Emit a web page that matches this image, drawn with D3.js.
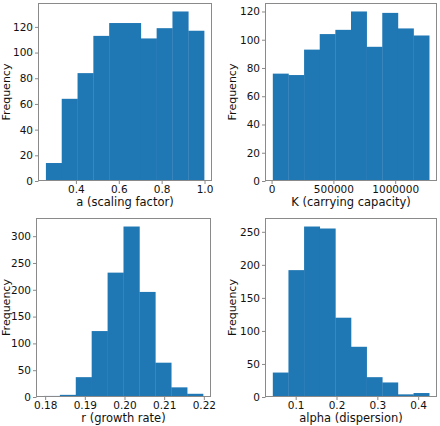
<!DOCTYPE html>
<html>
<head>
<meta charset="utf-8">
<script src="https://d3js.org/d3.v7.min.js"></script>
<style>
  html, body { margin: 0; padding: 0; background: #fff; }
  svg { display: block; }
  text { font-family: "DejaVu Sans", sans-serif; fill: #111; }
</style>
</head>
<body>
<svg id="chart" width="440" height="426"></svg>
<script>
// ---- data (histogram counts, bin ranges, tick values) ----
const aCounts = [14, 64, 84, 113, 123, 123, 111, 119, 132, 117];
const aRange = [0.26, 0.998];
const aXTicks = [0.4, 0.6, 0.8, 1.0];
const aYTicks = [0, 20, 40, 60, 80, 100, 120];

const kCounts = [76, 75, 93, 104, 107, 120, 95, 119, 108, 103];
const kRange = [10000, 1275000];
const kXTicks = [0, 500000, 1000000];
const kYTicks = [0, 20, 40, 60, 80, 100, 120];

const rCounts = [2, 4, 37, 123, 232, 318, 196, 64, 18, 6];
const rRange = [0.1797, 0.2198];
const rXTicks = [0.18, 0.19, 0.20, 0.21, 0.22];
const rYTicks = [0, 50, 100, 150, 200, 250, 300];

const alphaCounts = [37, 192, 258, 255, 120, 76, 30, 22, 4, 6];
const alphaRange = [0.044, 0.427];
const alphaXTicks = [0.1, 0.2, 0.3, 0.4];
const alphaYTicks = [0, 50, 100, 150, 200, 250];

const xLabels = ["a (scaling factor)", "K (carrying capacity)", "r (growth rate)", "alpha (dispersion)"];
const yLabel = "Frequency";

// ---- layout ----
const panels = [
  { counts: aCounts, range: aRange, xt: aXTicks, yt: aYTicks, fmt: d3.format(".1f"), label: xLabels[0],
    box: { l: 38, r: 212, t: 3, b: 181 }, ylabX: 6.5 },
  { counts: kCounts, range: kRange, xt: kXTicks, yt: kYTicks, fmt: d3.format("d"), label: xLabels[1],
    box: { l: 265, r: 437, t: 3, b: 181 }, ylabX: 232.5 },
  { counts: rCounts, range: rRange, xt: rXTicks, yt: rYTicks, fmt: d3.format(".2f"), label: xLabels[2],
    box: { l: 36, r: 211, t: 218, b: 397 }, ylabX: 6.5 },
  { counts: alphaCounts, range: alphaRange, xt: alphaXTicks, yt: alphaYTicks, fmt: d3.format(".1f"), label: xLabels[3],
    box: { l: 265, r: 437, t: 218, b: 397 }, ylabX: 232.5 }
];

const svg = d3.select("#chart");
const barColor = "#1f77b4";
const spineColor = "#8a8a8a";
const tickFont = "10.5px";
const labelFont = "11.5px";
const ylabFont = "11px";

panels.forEach(p => {
  const [lo, hi] = p.range;
  const n = p.counts.length;
  const w = (hi - lo) / n;
  const bins = p.counts.map((c, i) => ({ x0: lo + i * w, x1: lo + (i + 1) * w, c }));
  const pad = (hi - lo) * 0.05;
  const x = d3.scaleLinear().domain([lo - pad, hi + pad]).range([p.box.l, p.box.r]);
  const ymax = d3.max(p.counts) * 1.05;
  const y = d3.scaleLinear().domain([0, ymax]).range([p.box.b, p.box.t]);

  const g = svg.append("g");

  g.selectAll("rect.bar").data(bins).enter().append("rect")
    .attr("class", "bar")
    .attr("x", d => x(d.x0))
    .attr("width", d => x(d.x1) - x(d.x0) + 0.3)
    .attr("y", d => y(d.c))
    .attr("height", d => y(0) - y(d.c))
    .attr("fill", barColor);

  // frame
  g.append("rect")
    .attr("x", p.box.l + 0.5).attr("y", p.box.t + 0.5)
    .attr("width", p.box.r - p.box.l - 1).attr("height", p.box.b - p.box.t - 1)
    .attr("fill", "none").attr("stroke", spineColor).attr("stroke-width", 1);

  const xAxis = d3.axisBottom(x).tickValues(p.xt).tickFormat(p.fmt).tickSize(3.5).tickPadding(1.5);
  const gx = g.append("g").attr("transform", `translate(0,${p.box.b - 0.5})`).call(xAxis);
  gx.select(".domain").remove();
  gx.selectAll(".tick line").attr("stroke", spineColor);
  gx.selectAll(".tick text").attr("font-size", tickFont).attr("font-family", "DejaVu Sans").attr("fill", "#111");

  const yAxis = d3.axisLeft(y).tickValues(p.yt).tickFormat(d3.format("d")).tickSize(3.5).tickPadding(2);
  const gy = g.append("g").attr("transform", `translate(${p.box.l + 0.5},0)`).call(yAxis);
  gy.select(".domain").remove();
  gy.selectAll(".tick line").attr("stroke", spineColor);
  gy.selectAll(".tick text").attr("font-size", tickFont).attr("font-family", "DejaVu Sans").attr("fill", "#111");

  g.append("text")
    .attr("x", (p.box.l + p.box.r) / 2)
    .attr("y", p.box.b + 25)
    .attr("text-anchor", "middle")
    .attr("font-size", labelFont)
    .text(p.label);

  g.append("text")
    .attr("transform", `translate(${p.ylabX},${(p.box.t + p.box.b) / 2}) rotate(-90)`)
    .attr("text-anchor", "middle")
    .attr("dominant-baseline", "central")
    .attr("font-size", ylabFont)
    .text(yLabel);
});
</script>
</body>
</html>
